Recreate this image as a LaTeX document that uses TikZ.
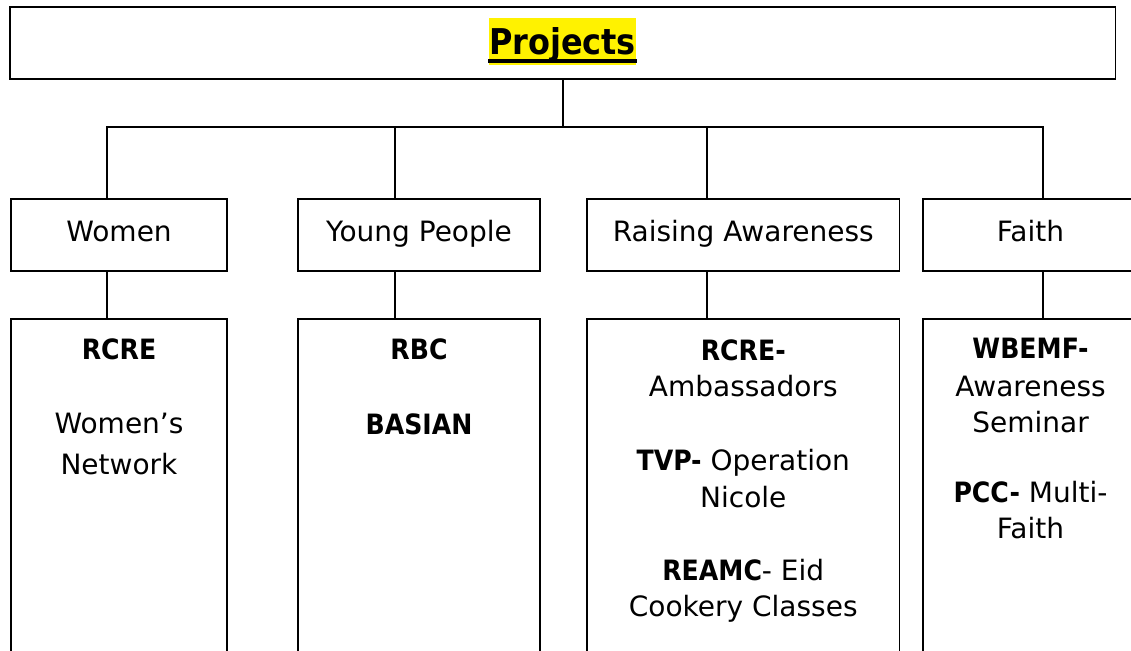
\documentclass[tikz,border=0pt]{standalone}
\usepackage{fontspec}
\setmainfont{DejaVu Sans}
\newfontfamily\condfont{DejaVu Sans Condensed}
\newcommand\bld[1]{{\condfont\bfseries #1}}
\begin{document}
\begin{tikzpicture}[x=1pt,y=-1pt,
  box/.style={draw=black, line width=1.9pt, rectangle, inner sep=0pt},
  link/.style={draw=black, line width=1.7pt},
  lbl/.style={anchor=base, inner sep=0pt, font=\fontsize{28}{34}\selectfont},
]
\useasboundingbox (0,0) rectangle (1131,650);
\fill[white] (0,0) rectangle (1131,650);
\begin{scope}
\clip (0,0) rectangle (1131,650);
% top box
\node[box, minimum width=1105.5pt, minimum height=72pt] (top) at (562.75,43) {};
\node[anchor=base, fill=yellow, inner xsep=0.5pt, inner ysep=0pt, text height=37pt, text depth=10pt,
      font=\fontsize{35.5}{40}\selectfont\condfont\bfseries] (title) at (562.5,55) {Projects};
\draw[line width=3.8pt] (title.west |- 0,61.3) -- (title.east |- 0,61.3);
% second row
\node[box, minimum width=216pt, minimum height=72pt] (women) at (119,235) {};
\node[box, minimum width=242pt, minimum height=72pt] (young) at (419,235) {};
\node[box, minimum width=312.5pt, minimum height=72pt] (aware) at (743.25,235) {};
\node[box, minimum width=215pt, minimum height=72pt] (faith) at (1030.5,235) {};
\node[lbl] (womenT) at (119,241) {Women};
\node[lbl] (youngT) at (419,241) {Young People};
\node[lbl] (awareT) at (743.25,241) {Raising Awareness};
\node[lbl] (faithT) at (1030.5,241) {Faith};
% third row
\node[box, minimum width=216pt, minimum height=381pt] (womenP) at (119,509.5) {};
\node[box, minimum width=242pt, minimum height=381pt] (youngP) at (419,509.5) {};
\node[box, minimum width=312.5pt, minimum height=381pt] (awareP) at (743.25,509.5) {};
\node[box, minimum width=215pt, minimum height=381pt] (faithP) at (1030.5,509.5) {};
% texts, Women
\node[lbl] (w1) at (119,359) {\bld{RCRE}};
\node[lbl] (w2) at (119,433) {Women’s};
\node[lbl] (w3) at (119,474) {Network};
% Young people
\node[lbl] (y1) at (419,359) {\bld{RBC}};
\node[lbl] (y2) at (419,434) {\bld{BASIAN}};
% Raising awareness
\node[lbl] (a1) at (743.25,360) {\bld{RCRE-}};
\node[lbl] (a2) at (743.25,396) {Ambassadors};
\node[lbl] (a3) at (743.25,470) {\bld{TVP-} Operation};
\node[lbl] (a4) at (743.25,507) {Nicole};
\node[lbl] (a5) at (743.25,580) {\bld{REAMC}- Eid};
\node[lbl] (a6) at (743.25,616) {Cookery Classes};
% Faith
\node[lbl] (f1) at (1030.5,358) {\bld{WBEMF-}};
\node[lbl] (f2) at (1030.5,396) {Awareness};
\node[lbl] (f3) at (1030.5,432) {Seminar};
\node[lbl] (f4) at (1030.5,502) {\bld{PCC-} Multi-};
\node[lbl] (f5) at (1030.5,538) {Faith};
% connectors
\coordinate (hub) at (562.75,127);
\coordinate (b1) at (107,127);
\coordinate (b2) at (395,127);
\coordinate (b3) at (707,127);
\coordinate (b4) at (1043,127);
\draw[link] (top.south) -- (hub);
\draw[link] (b1 |- women.north) -- (b1) -- (b4) -- (b4 |- faith.north);
\draw[link] (b2) -- (b2 |- young.north);
\draw[link] (b3) -- (b3 |- aware.north);
\draw[link] (women.south -| b1) -- (b1 |- womenP.north);
\draw[link] (young.south -| b2) -- (b2 |- youngP.north);
\draw[link] (aware.south -| b3) -- (b3 |- awareP.north);
\draw[link] (faith.south -| b4) -- (b4 |- faithP.north);
\end{scope}
\end{tikzpicture}
\end{document}
